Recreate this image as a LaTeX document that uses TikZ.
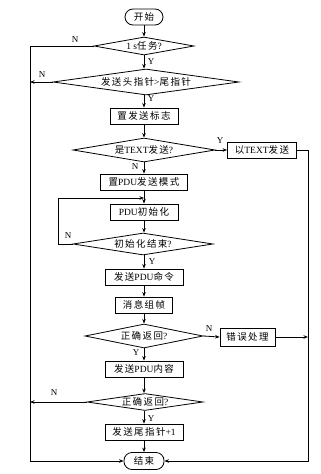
\documentclass[tikz,border=0pt]{standalone}
\usepackage{fontspec}
\setmainfont{Liberation Serif}
\newfontfamily\cjk[LetterSpace=15]{Noto Sans CJK SC}
\usetikzlibrary{shapes.geometric,arrows.meta}
\newcommand{\zh}[1]{{\cjk #1}}
\begin{document}
\begin{tikzpicture}[x=1pt,y=-1pt,
  line width=0.8pt,
  every node/.style={font=\fontsize{9.5}{11}\selectfont, inner sep=0pt},
  box/.style={draw, rectangle, minimum height=16pt},
  term/.style={draw, rounded corners=8pt, minimum height=16pt},
  dec/.style={draw, diamond, aspect=6},
  arr/.style={-{Stealth[length=4.5pt,width=3.5pt]}},
  lab/.style={font=\fontsize{9}{10}\selectfont}]
\useasboundingbox (0,0) rectangle (321,474);
\fill[white] (0,0) rectangle (321,474);
% nodes
\node[term, minimum width=38pt] (start) at (144,17) {\zh{开始}};
\node[dec, minimum width=100pt, minimum height=18pt] (d1) at (144,46) {1 s\zh{任务}?};
\node[dec, minimum width=186pt, minimum height=26pt, aspect=7] (d2) at (146,82) {\zh{发送头指针}>\zh{尾指针}};
\node[box, minimum width=68pt] (b1) at (144,116) {\zh{置发送标志}};
\node[dec, minimum width=142pt, minimum height=24pt] (d3) at (144,150) {\zh{是}TEXT\zh{发送}?};
\node[box, minimum width=69pt] (bT) at (262,150) {\zh{以}TEXT\zh{发送}};
\node[box, minimum width=87pt] (b2) at (144,182) {\zh{置}PDU\zh{发送模式}};
\node[box, minimum width=68pt] (b3) at (144,212) {PDU\zh{初始化}};
\node[dec, minimum width=140pt, minimum height=22pt] (d4) at (143,244) {\zh{初始化结束}?};
\node[box, minimum width=78pt] (b4) at (144,277) {\zh{发送}PDU\zh{命令}};
\node[box, minimum width=57pt] (b5) at (144,305) {\zh{消息组帧}};
\node[dec, minimum width=118pt, minimum height=24pt] (d5) at (144,336) {\zh{正确返回}?};
\node[box, minimum width=55pt, minimum height=18pt] (bE) at (247.5,337) {\zh{错误处理}};
\node[box, minimum width=78pt] (b6) at (144,369) {\zh{发送}PDU\zh{内容}};
\node[dec, minimum width=116pt, minimum height=17pt, aspect=7] (d6) at (145,402) {\zh{正确返回}?};
\node[box, minimum width=78pt] (b7) at (144,432) {\zh{发送尾指针}+1};
\node[term, minimum width=40pt, minimum height=17pt] (end) at (144,461) {\zh{结束}};
% rails
\coordinate (L1) at (30,46);
\coordinate (L2) at (30,82);
\coordinate (L6) at (30,402);
\coordinate (LB) at (30,461);
\coordinate (RT) at (308,150);
\coordinate (RE) at (308,337);
\coordinate (RB) at (308,461);
\coordinate (J) at (144,198);
\coordinate (LP) at (58,198);
\coordinate (LQ) at (58,244);
% connectors
\draw[arr] (start) -- (d1);
\draw[arr] (d1) -- (d1 |- d2.north);
\draw[arr] (d1 |- d2.south) -- (b1);
\draw[arr] (b1) -- (d3);
\draw[arr] (d3) -- (b2);
\draw[arr] (d3.east) -- (bT.west);
\draw[arr] (bT.east) -| (RB) -- (end.east);
\draw[arr] (b2) -- (b3);
\draw[arr] (d4.west) -- (LQ) -- (LP) -- (J);
\draw[arr] (b3) -- (b3 |- d4.north);
\draw[arr] (b3 |- d4.south) -- (b4);
\draw[arr] (b4) -- (b5);
\draw[arr] (b5) -- (d5);
\draw[arr] (d5.east) -- (bE.west);
\draw[arr] (bE.east) -- (RE);
\draw[arr] (d5) -- (b6);
\draw[arr] (b6) -- (b6 |- d6.north);
\draw[arr] (b6 |- d6.south) -- (b7);
\draw[arr] (b7) -- (end);
\draw (d1.west) -- (L1) -- (LB);
\draw[arr] (LB) -- (end.west);
\draw[arr] (d2.west) -- (L2);
\draw[arr] (d6.west) -- (L6);
% labels
\node[lab] at (151,62) {Y};
\node[lab] at (75,40) {N};
\node[lab] at (151,99) {Y};
\node[lab] at (42,75) {N};
\node[lab] at (220,141) {Y};
\node[lab] at (135,167) {N};
\node[lab] at (68,236) {N};
\node[lab] at (152,262) {Y};
\node[lab] at (209,329) {N};
\node[lab] at (136,353) {Y};
\node[lab] at (54,393) {N};
\node[lab] at (151,419) {Y};
\end{tikzpicture}
\end{document}
